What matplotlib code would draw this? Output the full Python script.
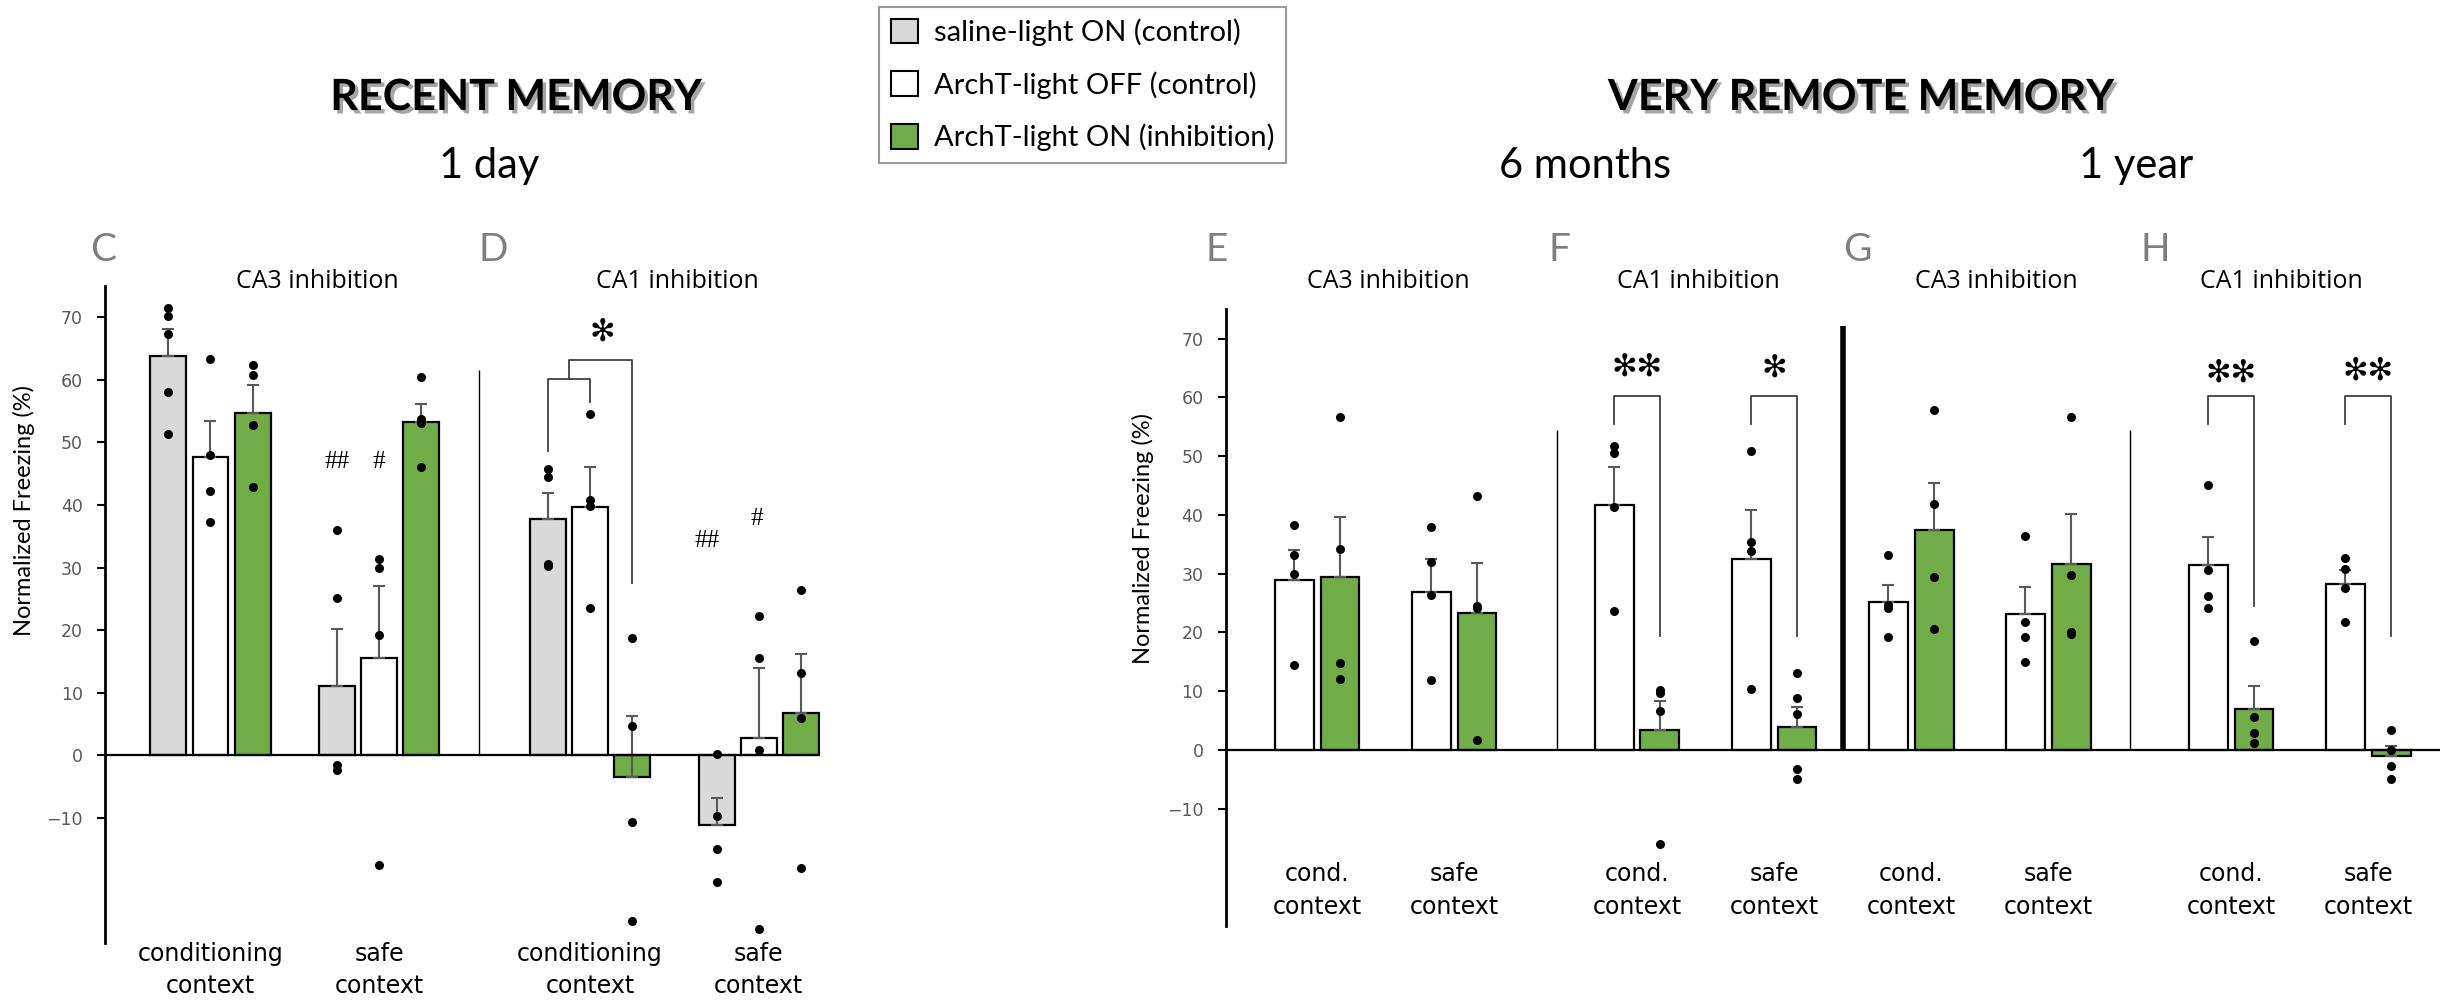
#!/usr/bin/env python
"""Freezing after CA3 / CA1 inhibition at recent and very remote time points."""

import matplotlib

matplotlib.use("Agg")
import matplotlib.patheffects as pe
import matplotlib.pyplot as plt
import numpy as np
from matplotlib.patches import Patch

W, H = 2446, 1007  # output size in pixels (dpi 100)

# ---------------- data: recent memory, 1 day (panels C, D) ----------------
recent_contexts = ["conditioning\ncontext", "safe\ncontext", "conditioning\ncontext", "safe\ncontext"]
recent_saline_on = [63.8, 11.1, 37.8, -11.1]
recent_saline_on_sem = [4.3, 9.1, 4.1, 4.3]
recent_archt_off = [47.7, 15.5, 39.7, 2.8]
recent_archt_off_sem = [5.7, 11.6, 6.3, 11.1]
recent_archt_on = [54.7, 53.3, -3.5, 6.8]
recent_archt_on_sem = [4.5, 2.9, 9.8, 9.4]
recent_saline_on_pts = [
    [71.5, 70.2, 67.4, 58.1, 51.4],
    [36.0, 25.2, -1.6, -2.4],
    [45.8, 44.5, 30.6, 30.3],
    [0.2, -9.7, -14.9, -20.2],
]
recent_archt_off_pts = [
    [63.4, 48.0, 42.2, 37.3],
    [31.3, 29.9, 19.2, -17.6],
    [54.5, 40.8, 39.9, 23.6],
    [22.2, 15.6, 0.9, -27.8],
]
recent_archt_on_pts = [
    [62.4, 60.7, 52.8, 42.8],
    [60.4, 53.8, 53.1, 46.0],
    [18.8, 4.7, -10.7, -26.5],
    [26.4, 13.1, 6.0, -18.0],
]

# ---------------- data: very remote memory (panels E-H) ----------------
remote_contexts = ["cond.\ncontext", "safe\ncontext"] * 4
remote_archt_off = [28.9, 26.9, 41.7, 32.5, 25.2, 23.2, 31.5, 28.2]
remote_archt_off_sem = [5.1, 5.6, 6.5, 8.4, 2.9, 4.5, 4.7, 2.4]
remote_archt_on = [29.4, 23.3, 3.3, 3.8, 37.4, 31.6, 7.0, -1.0]
remote_archt_on_sem = [10.3, 8.5, 5.0, 3.5, 8.1, 8.6, 3.9, 1.7]
remote_archt_off_pts = [
    [38.2, 33.2, 29.9, 14.4],
    [37.9, 31.9, 26.4, 11.8],
    [51.7, 50.5, 41.4, 23.7],
    [50.9, 35.3, 33.8, 10.3],
    [33.2, 24.6, 24.2, 19.2],
    [36.4, 21.7, 19.2, 15.0],
    [45.1, 30.6, 26.2, 24.1],
    [32.6, 30.8, 27.6, 21.7],
]
remote_archt_on_pts = [
    [56.6, 34.2, 14.8, 12.1],
    [43.2, 24.4, 24.1, 1.7],
    [10.2, 9.6, 6.6, -16.0],
    [13.0, 8.8, 6.1, -3.3, -5.0],
    [57.8, 41.8, 29.5, 20.6],
    [56.7, 29.7, 20.1, 19.7],
    [18.5, 5.6, 2.9, 1.1],
    [3.3, 0.0, -2.8, -5.0],
]

legend_labels = ["saline-light ON (control)", "ArchT-light OFF (control)", "ArchT-light ON (inhibition)"]

# ---------------- layout ----------------
GRAY, WHITE, GREEN = "#d9d9d9", "#ffffff", "#70ad47"
ERR = "#595959"
recent_pos = np.array([0, 4, 9, 13])
remote_pos = np.array([0, 3, 7, 10, 13, 16, 20, 23])
STAR = "\u273b"


def px(x, y):
    """Pixel position (from top-left) -> figure fraction."""
    return x / W, 1 - y / H


def draw_series(ax, x, vals, sem, pts, color, width):
    ax.bar(x, vals, width, color=color, edgecolor="black", linewidth=1.6, zorder=2)
    ax.errorbar(x, vals, yerr=[np.zeros(len(vals)), sem], fmt="none", ecolor=ERR,
                elinewidth=1.5, capsize=4, capthick=1.5, zorder=3)
    for xi, p in zip(x, pts):
        ax.plot([xi] * len(p), p, "o", color="black", ms=6.5, mew=0, zorder=4)


def style_axes(ax, xlim):
    ax.set_xlim(*xlim)
    ax.set_ylim(-30, 75)
    for side in ("top", "right", "bottom"):
        ax.spines[side].set_visible(False)
    ax.spines["left"].set_linewidth(2)
    ax.axhline(0, color="black", linewidth=1.6, zorder=5)
    ax.set_yticks(range(-10, 80, 10))
    ax.set_xticks([])
    ax.tick_params(axis="y", direction="out", length=6, width=1.5, pad=10,
                   labelsize=12.5, labelcolor="#595959")
    ax.patch.set_visible(False)


def bracket(ax, x0, x1, top, y0, y1, color="#404040"):
    ax.plot([x0, x0, x1, x1], [y0, top, top, y1], color=color, lw=1.3, zorder=6)


def main() -> None:
    fig = plt.figure(figsize=(W / 100, H / 100), dpi=100)

    # --- recent memory axes ---
    ax1 = fig.add_axes([105 / W, 1 - 943 / H, 715 / W, 657 / H])
    style_axes(ax1, (-2.5, 14.45))
    bw = 0.85
    draw_series(ax1, recent_pos - 1, recent_saline_on, recent_saline_on_sem, recent_saline_on_pts, GRAY, bw)
    draw_series(ax1, recent_pos, recent_archt_off, recent_archt_off_sem, recent_archt_off_pts, WHITE, bw)
    draw_series(ax1, recent_pos + 1, recent_archt_on, recent_archt_on_sem, recent_archt_on_pts, GREEN, bw)
    ax1.vlines(6.37, 0, 61.5, color="black", lw=1)
    for xp, lab in zip(recent_pos, recent_contexts):
        ax1.text(xp, -34.3, lab, ha="center", va="center", fontsize=17, linespacing=1.4, clip_on=False)
    # nested significance bracket in D
    bracket(ax1, 8, 9, 60.2, 48.7, 56.4)
    bracket(ax1, 8.5, 10, 63.2, 60.2, 27.5)
    ax1.text(9.3, 67.6, STAR, ha="center", va="center", fontsize=22)
    hash_kw = dict(ha="center", va="center", fontsize=18, family="Liberation Serif")
    ax1.text(3, 46.9, "##", **hash_kw)
    ax1.text(4, 46.9, "#", **hash_kw)
    ax1.text(11.77, 34.2, "##", **hash_kw)
    ax1.text(12.95, 37.7, "#", **hash_kw)

    # --- very remote memory axes ---
    ax2 = fig.add_axes([1225.7 / W, 1 - 926 / H, 1214.3 / W, 616.7 / H])
    style_axes(ax2, (-2.0, 24.57))
    draw_series(ax2, remote_pos - 0.5, remote_archt_off, remote_archt_off_sem, remote_archt_off_pts, WHITE, bw)
    draw_series(ax2, remote_pos + 0.5, remote_archt_on, remote_archt_on_sem, remote_archt_on_pts, GREEN, bw)
    ax2.vlines([5.24, 17.79], 0, 54.5, color="black", lw=1)
    ax2.vlines(11.5, 0, 72.1, color="black", lw=4)
    for xp, lab in zip(remote_pos, remote_contexts):
        ax2.text(xp, -24, lab, ha="center", va="center", fontsize=17, linespacing=1.45)
    for xp, right_end, lab, ly in [(7, 19.3, STAR * 2, 65.2), (10, 19.3, STAR, 65.0),
                                   (20, 24.4, STAR * 2, 64.1), (23, 19.3, STAR * 2, 64.4)]:
        bracket(ax2, xp - 0.5, xp + 0.5, 60.3, 55.4, right_end)
        ax2.text(xp, ly, lab, ha="center", va="center", fontsize=22)

    # --- y labels ---
    ylab = dict(rotation=90, ha="center", va="center", fontsize=17, family="Lato")
    fig.text(*px(24, 511), "Normalized Freezing (%)", **ylab)
    fig.text(*px(1143, 539), "Normalized Freezing (%)", **ylab)

    # --- panel letters and titles ---
    for x, letter in [(103, "C"), (493, "D"), (1217, "E"), (1559, "F"), (1857, "G"), (2155, "H")]:
        fig.text(*px(x, 261), letter, ha="center", va="baseline", fontsize=28,
                 color="#7f7f7f", family="Lato")
    for x, title in [(317.5, "CA3 inhibition"), (677.8, "CA1 inhibition"), (1388, "CA3 inhibition"),
                     (1698, "CA1 inhibition"), (1996, "CA3 inhibition"), (2281, "CA1 inhibition")]:
        fig.text(*px(x, 288), title, ha="center", va="baseline", fontsize=18, family="Open Sans")

    shadow = [pe.withSimplePatchShadow(offset=(2.5, -2.5), shadow_rgbFace="#7f7f7f", alpha=0.7)]
    head = dict(ha="center", va="baseline", fontsize=31, family="Lato", fontweight="bold", path_effects=shadow)
    fig.text(*px(516, 110), "RECENT MEMORY", **head)
    fig.text(*px(1861, 110), "VERY REMOTE MEMORY", **head)
    sub = dict(ha="center", va="baseline", fontsize=30, family="Lato")
    fig.text(*px(489, 178), "1 day", **sub)
    fig.text(*px(1585, 178), "6 months", **sub)
    fig.text(*px(2136, 178), "1 year", **sub)

    # --- legend ---
    handles = [Patch(facecolor=c, edgecolor="black", linewidth=1.5) for c in (GRAY, WHITE, GREEN)]
    leg = fig.legend(handles, legend_labels, loc="upper left", bbox_to_anchor=px(879, 6.7),
                     borderaxespad=0, prop={"family": "Lato", "size": 21}, frameon=True,
                     fancybox=False, edgecolor="#7f7f7f", handlelength=0.93, handleheight=0.93,
                     handletextpad=0.55, labelspacing=0.86, borderpad=0.4)
    leg.get_frame().set_linewidth(1.5)

    fig.savefig("out.png", dpi=100)
    plt.close(fig)


if __name__ == "__main__":
    main()
